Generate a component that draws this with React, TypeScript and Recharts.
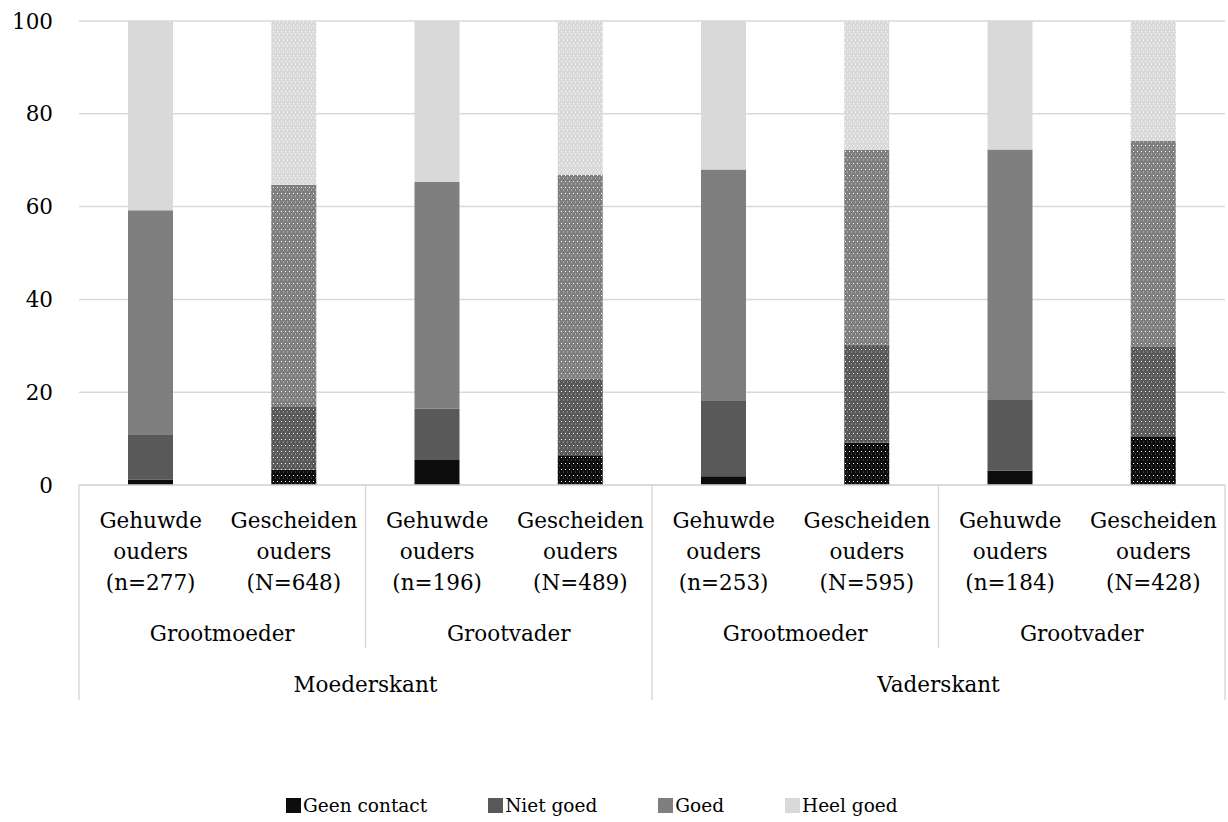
import React from 'react';
import { BarChart, Bar, XAxis, YAxis, CartesianGrid, Legend, Cell } from 'recharts';

// Category labels (bottom level, three lines each)
const ouders = ['Gehuwde', 'Gescheiden', 'Gehuwde', 'Gescheiden', 'Gehuwde', 'Gescheiden', 'Gehuwde', 'Gescheiden'];
const sampleSizes = ['(n=277)', '(N=648)', '(n=196)', '(N=489)', '(n=253)', '(N=595)', '(n=184)', '(N=428)'];
const grootouders = ['Grootmoeder', 'Grootvader', 'Grootmoeder', 'Grootvader'];
const kanten = ['Moederskant', 'Vaderskant'];

// Percentages per category
const geenContact = [1.2, 3.3, 5.4, 6.4, 1.9, 9.1, 3.1, 10.5];
const nietGoed = [9.6, 13.5, 11.1, 16.5, 16.2, 21.2, 15.2, 19.4];
const goed = [48.4, 47.9, 48.8, 43.9, 49.9, 41.9, 54.0, 44.3];
const heelGoed = [40.8, 35.3, 34.7, 33.2, 32.0, 27.8, 27.7, 25.8];

const yTicks = [0, 20, 40, 60, 80, 100];

const series = [
  { key: 'geenContact', name: 'Geen contact', color: '#0d0d0d', dash: '#3a3a3a' },
  { key: 'nietGoed', name: 'Niet goed', color: '#595959', dash: '#8a8a8a' },
  { key: 'goed', name: 'Goed', color: '#7f7f7f', dash: '#a8a8a8' },
  { key: 'heelGoed', name: 'Heel goed', color: '#d9d9d9', dash: '#ececec' },
];

const data = ouders.map((o, i) => ({
  id: `c${i}`,
  geenContact: geenContact[i],
  nietGoed: nietGoed[i],
  goed: goed[i],
  heelGoed: heelGoed[i],
}));

const FONT = 'DejaVu Serif';
const FS = 21.5;
const LINE = '#d9d9d9';

const CategoryTick = (props: any) => {
  const { x, y, payload, index } = props;
  const half = payload?.offset ?? 71.6;
  const i = index as number;
  const textProps = { textAnchor: 'middle' as const, fontFamily: FONT, fontSize: FS, fill: '#000' };
  const lines: React.ReactNode[] = [];
  if (i === 0) lines.push(<line key="l0" x1={x - half} x2={x - half} y1={y} y2={y + 215} stroke={LINE} strokeWidth={1.5} />);
  if (i === 1 || i === 5) lines.push(<line key="lg" x1={x + half} x2={x + half} y1={y} y2={y + 163} stroke={LINE} strokeWidth={1.5} />);
  if (i === 3 || i === 7) lines.push(<line key="ls" x1={x + half} x2={x + half} y1={y} y2={y + 215} stroke={LINE} strokeWidth={1.5} />);
  return (
    <g>
      {lines}
      <text x={x} y={y + 43} {...textProps}>{ouders[i]}</text>
      <text x={x} y={y + 74} {...textProps}>ouders</text>
      <text x={x} y={y + 105} {...textProps}>{sampleSizes[i]}</text>
      {i % 2 === 0 && (
        <text x={x + half} y={y + 156} {...textProps}>{grootouders[i / 2]}</text>
      )}
      {i % 4 === 0 && (
        <text x={x + 3 * half} y={y + 207} {...textProps}>{kanten[i / 4]}</text>
      )}
    </g>
  );
};

const LegendContent = () => (
  <div
    style={{
      display: 'flex',
      alignItems: 'center',
      gap: 61,
      paddingLeft: 286,
      height: 30,
      fontFamily: FONT,
      fontSize: 18.5,
      color: '#000',
    }}
  >
    {series.map((s) => (
      <div key={s.key} style={{ display: 'flex', alignItems: 'center' }}>
        <div style={{ width: 15, height: 15, background: s.color, marginRight: 2 }} />
        <span>{s.name}</span>
      </div>
    ))}
  </div>
);

export default function App() {
  return (
    <div style={{ position: 'absolute', left: 0, top: 0, background: '#fff' }}>
      <BarChart width={1228} height={822} data={data} margin={{ top: 21, right: 3, left: 0, bottom: 2 }}>
        <defs>
          {series.map((s) => (
            <pattern key={s.key} id={`pat-${s.key}`} width={4} height={6} patternUnits="userSpaceOnUse">
              <rect width={4} height={6} fill={s.color} />
              <rect x={1} y={1} width={1} height={1} fill="#ffffff" />
              <rect x={3} y={3} width={1} height={2} fill={s.dash} />
            </pattern>
          ))}
        </defs>
        <CartesianGrid vertical={false} stroke={LINE} strokeWidth={1.5} />
        <XAxis
          dataKey="id"
          height={305}
          interval={0}
          tickLine={false}
          tickSize={0}
          tickMargin={0}
          axisLine={{ stroke: LINE, strokeWidth: 1.5 }}
          tick={<CategoryTick />}
        />
        <YAxis
          width={79}
          domain={[0, 100]}
          ticks={yTicks}
          axisLine={false}
          tickLine={false}
          tickMargin={20}
          tick={{ fontFamily: FONT, fontSize: FS, fill: '#000' }}
        />
        <Legend verticalAlign="bottom" align="left" height={30} content={<LegendContent />} />
        {series.map((s) => (
          <Bar key={s.key} dataKey={s.key} name={s.name} stackId="a" barSize={45} fill={s.color} isAnimationActive={false}>
            {data.map((d, i) => (
              <Cell key={d.id} fill={i % 2 === 1 ? `url(#pat-${s.key})` : s.color} />
            ))}
          </Bar>
        ))}
      </BarChart>
    </div>
  );
}
